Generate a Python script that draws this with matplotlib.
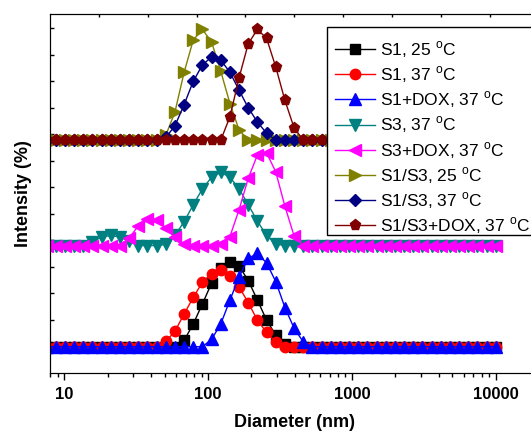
import matplotlib
matplotlib.use("Agg")
import matplotlib.pyplot as plt
from matplotlib.patches import Rectangle

plt.rcParams['font.family'] = ['Liberation Sans', 'DejaVu Sans']
plt.rcParams['mathtext.fontset'] = 'custom'
plt.rcParams['mathtext.rm'] = 'Liberation Sans'

# DLS size classes (nm)
sizes = [7.531, 8.721, 10.10, 11.70, 13.54, 15.69, 18.17, 21.04, 24.36, 28.21,
         32.67, 37.84, 43.82, 50.75, 58.77, 68.06, 78.82, 91.28, 105.7, 122.4,
         141.8, 164.2, 190.1, 220.2, 255.0, 295.3, 342.0, 396.1, 458.7, 531.2,
         615.1, 712.4, 825.0, 955.4, 1106, 1281, 1484, 1718, 1990, 2305,
         2669, 3091, 3580, 4145, 4801, 5560, 6439, 7456, 8635, 10000]

# intensity (%) per size class
s1_25 = [0] * 15 + [1.2, 4.3, 8.1, 12.0, 14.8, 16.0, 15.2, 12.5, 8.8, 5.0, 2.2, 0.5] + [0] * 23
s1_37 = [0] * 13 + [1.0, 2.9, 6.2, 9.3, 12.2, 13.8, 14.5, 13.3, 11.3, 8.3, 5.0, 2.7, 0.8] + [0] * 24
s1_dox = [0] * 18 + [1.4, 4.3, 8.8, 13.2, 16.7, 17.6, 15.8, 12.3, 7.4, 3.5, 0.9] + [0] * 21
s3_37 = [0] * 5 + [0.7, 1.6, 1.9, 1.6, 0.8, 0, 0, 0, 0.2, 1.9, 4.5, 7.7, 10.7, 12.9, 13.8,
                   12.9, 10.7, 7.7, 4.6, 1.9, 0.3] + [0] * 24
s3_dox = [0] * 9 + [1.4, 3.7, 5.1, 4.9, 3.3, 1.6, 0.2, 0, 0, 0, 0.2, 1.7, 6.8, 12.7, 17.1,
                    17.5, 13.9, 7.4, 1.8] + [0] * 22
s13_25 = [0] * 13 + [0.9, 5.3, 12.8, 18.9, 20.9, 18.5, 13.0, 6.9, 1.9] + [0] * 28
s13_37 = [0] * 13 + [0.5, 2.7, 6.7, 11.1, 14.2, 15.7, 15.1, 12.8, 9.4, 6.1, 3.4, 1.3] + [0] * 25
s13_dox = [0] * 20 + [4.4, 11.8, 18.2, 20.9, 19.2, 13.8, 7.5, 2.3] + [0] * 22

labels = ["S1, 25 $^{\\mathrm{o}}$C", "S1, 37 $^{\\mathrm{o}}$C", "S1+DOX, 37 $^{\\mathrm{o}}$C",
          "S3, 37 $^{\\mathrm{o}}$C", "S3+DOX, 37 $^{\\mathrm{o}}$C", "S1/S3, 25 $^{\\mathrm{o}}$C",
          "S1/S3, 37 $^{\\mathrm{o}}$C", "S1/S3+DOX, 37 $^{\\mathrm{o}}$C"]

# vertical stacking offsets
off_low, off_mid, off_top = 4.9, 24.0, 43.9

series = [
    (s1_25, off_low, 's', 'black', 6.5),
    (s1_37, off_low, 'o', 'red', 7.5),
    (s1_dox, off_low, '^', 'blue', 8),
    (s3_37, off_mid, 'v', '#008080', 8),
    (s3_dox, off_mid, '<', 'magenta', 8),
    (s13_25, off_top, '>', '#808000', 8),
    (s13_37, off_top, 'D', '#000080', 6.5),
    (s13_dox, off_top, 'p', '#800000', 8),
]

fig = plt.figure(figsize=(5.31, 4.42), dpi=100)
ax = fig.add_axes([0.0942, 0.1568, 0.9203, 0.8115])

for (vals, off, mk, col, ms), lab in zip(series, labels):
    ax.plot(sizes, [v + off for v in vals], marker=mk, color=col, mec=col, mfc=col,
            ms=ms, lw=1, label=lab)

ax.set_xscale('log')
ax.set_xlim(7.95, 19900)
ax.set_ylim(0, 67.7)
ax.set_yticks(range(5, 66, 5))
ax.set_yticklabels([])
ax.set_xticks([10, 100, 1000, 10000])
ax.set_xticklabels(['10', '100', '1000', '10000'], fontweight='bold', fontsize=12)
ax.tick_params(axis='x', which='major', direction='out', length=5, width=1, pad=5)
ax.tick_params(axis='x', which='minor', direction='out', length=3, width=1)
ax.tick_params(axis='y', direction='in', length=3, width=1)

ax.set_xlabel('Diameter (nm)', fontweight='bold', fontsize=13, labelpad=9)
ax.set_ylabel('Intensity (%)', fontweight='bold', fontsize=13)
ax.yaxis.set_label_coords(-0.037, 0.5)

# top axis with evenly spaced ticks
ax2 = ax.twiny()
ax2.set_xlim(0, 10)
ax2.set_xticks(range(1, 10))
ax2.set_xticklabels([])
ax2.tick_params(axis='x', direction='in', length=2, width=1)

# legend box (opaque) + frameless legend on top
box = Rectangle((0.567, 0.384), 0.45, 0.581, transform=ax.transAxes, facecolor='white',
                edgecolor='black', lw=1, zorder=4, clip_on=False)
ax.add_patch(box)
leg = ax.legend(loc='upper left', bbox_to_anchor=(335 / 531, 1 - 39 / 442),
                bbox_transform=fig.transFigure, borderaxespad=0, borderpad=0,
                fontsize=12.5, frameon=False, handlelength=2.3, handletextpad=0.3,
                labelspacing=0.26)
leg.set_zorder(5)

fig.savefig('out.png', dpi=100)
